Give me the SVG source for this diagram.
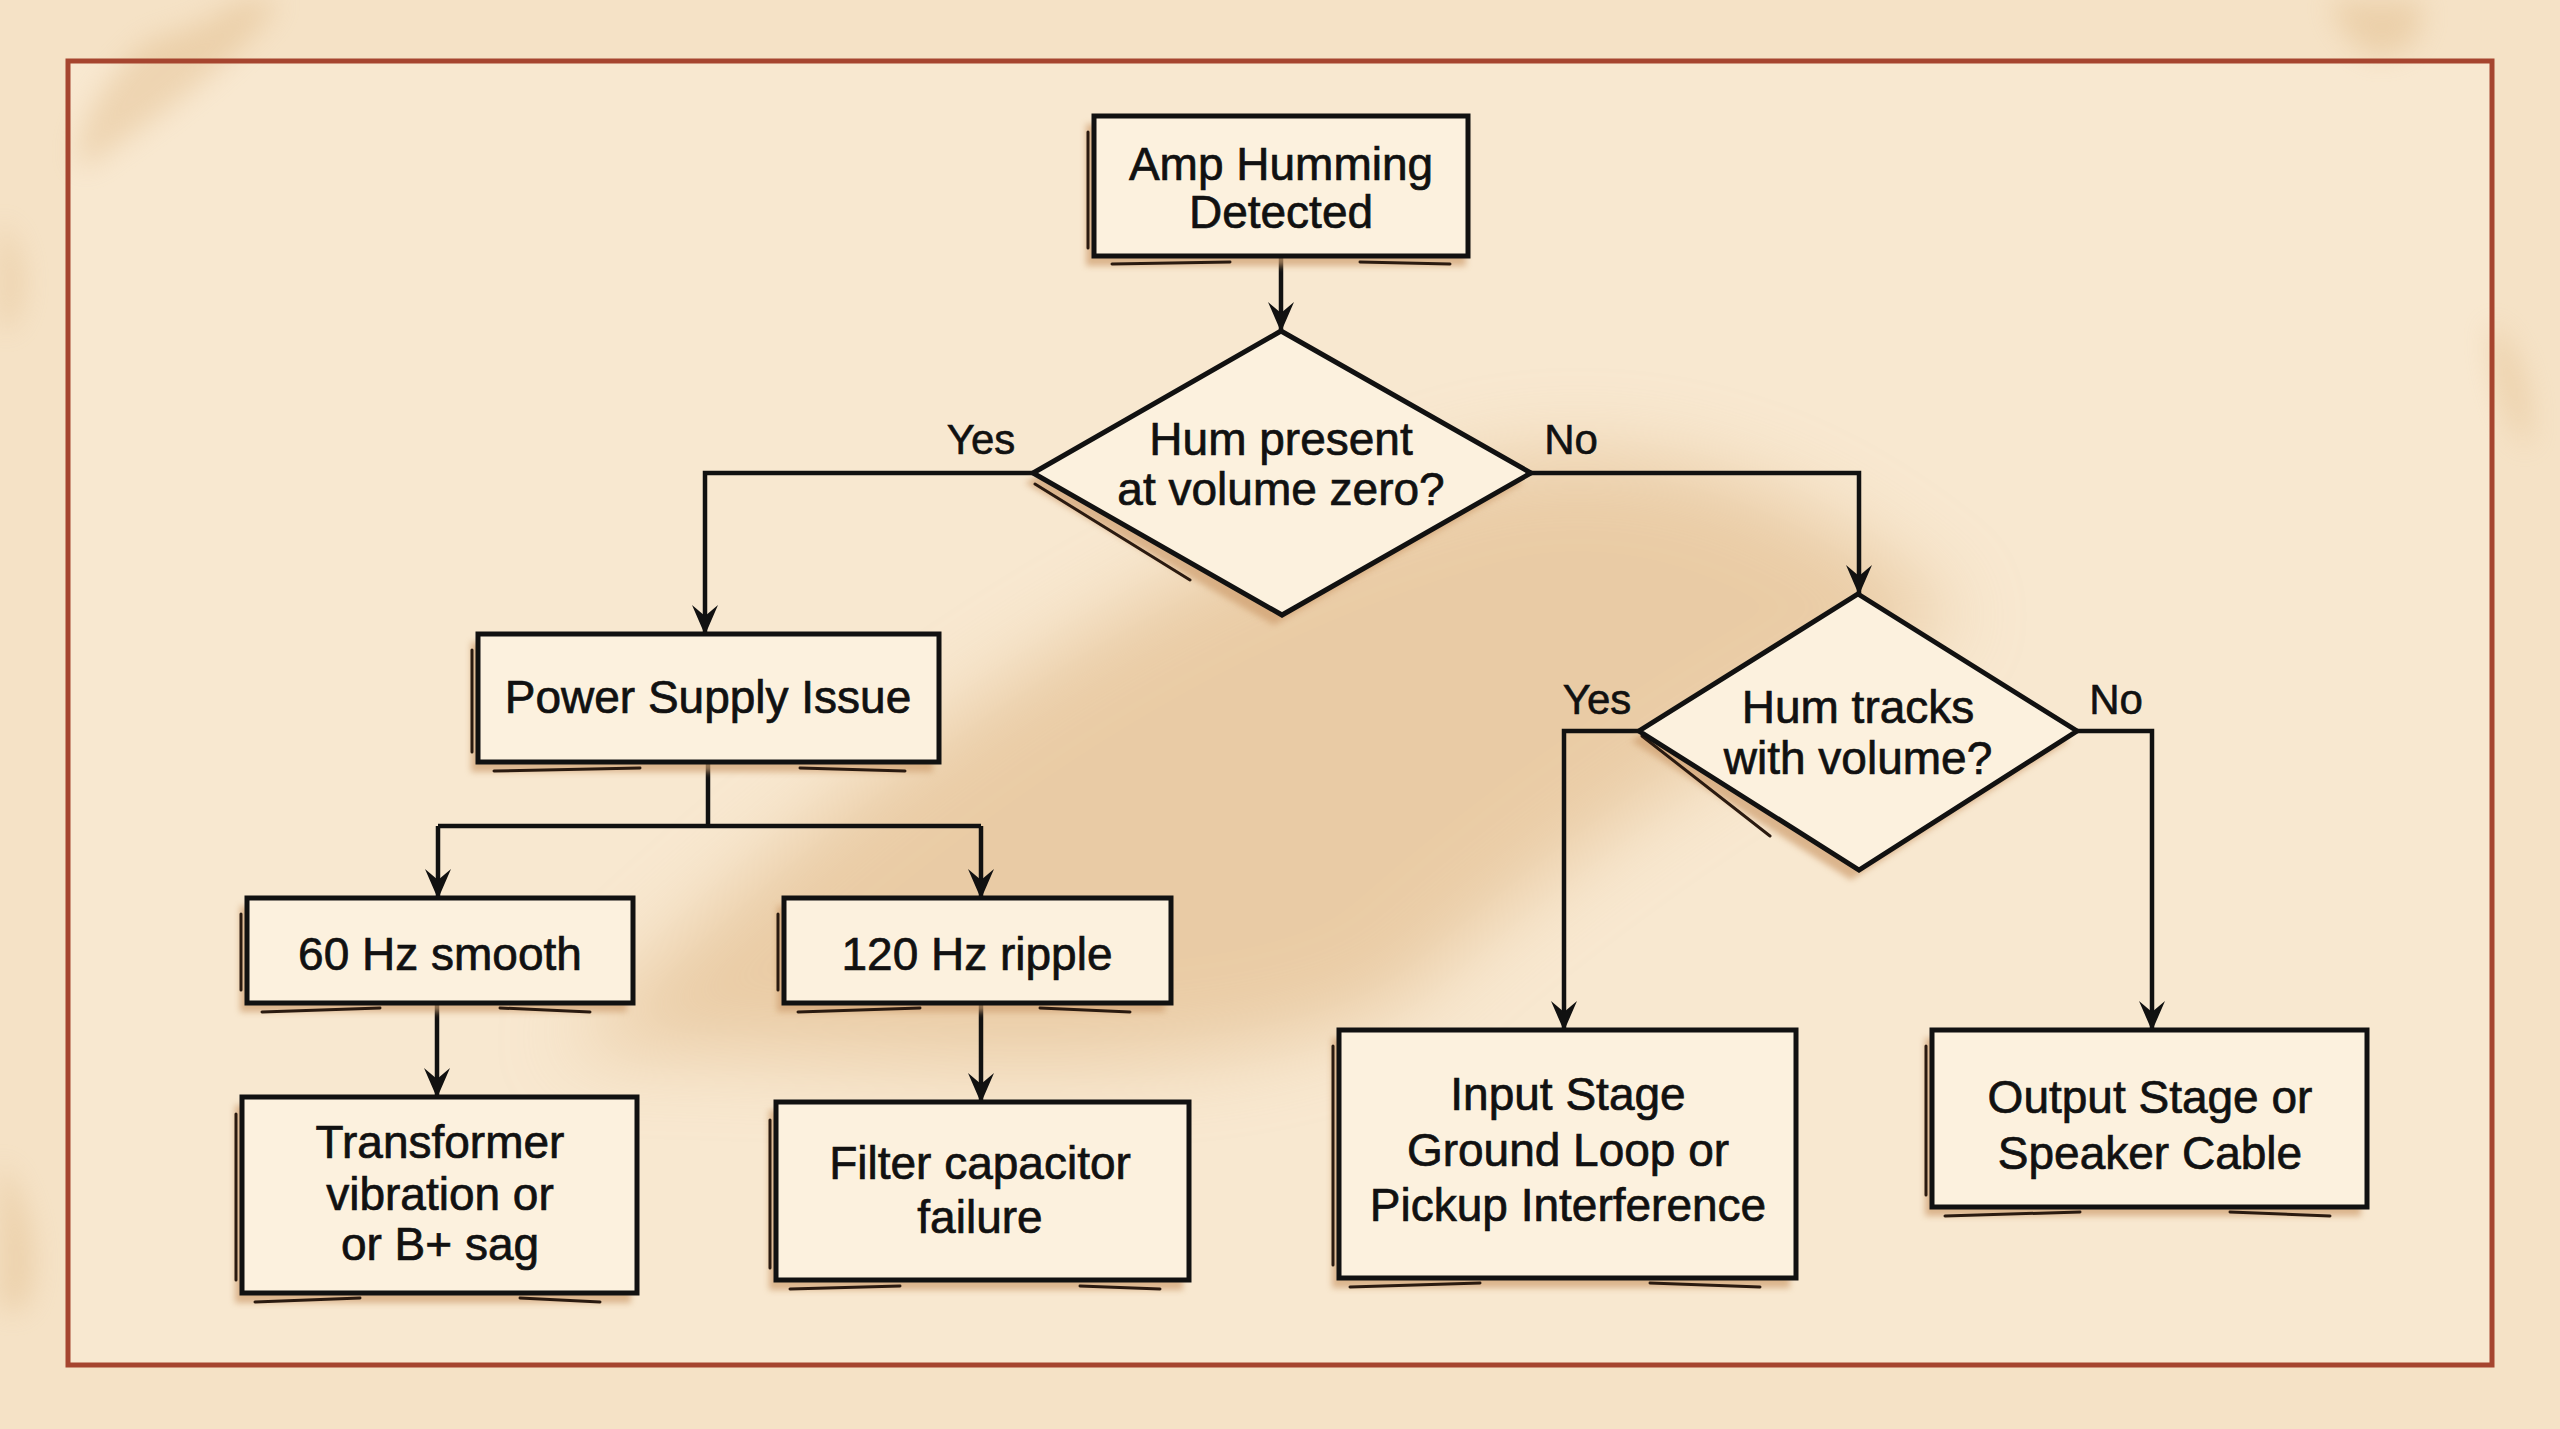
<svg xmlns="http://www.w3.org/2000/svg" width="2560" height="1429" viewBox="0 0 2560 1429">
<defs>
<style>
.box{fill:#fcf1de;stroke:#111;stroke-width:5;stroke-linejoin:miter}
.shadow{fill:#cf9f70;opacity:0.7}
.sk{fill:none;stroke:#2a1a10;stroke-width:3;stroke-linecap:round}
.t{font-family:"Liberation Sans","Arial",sans-serif;font-size:46px;fill:#111;stroke:#111;stroke-width:0.7;text-anchor:middle}
.lbl{font-family:"Liberation Sans","Arial",sans-serif;font-size:42px;fill:#111;stroke:#111;stroke-width:0.6;text-anchor:middle}
.edge{fill:none;stroke:#111;stroke-width:4.5;stroke-linejoin:miter}
</style>
<marker id="arr" viewBox="0 0 30 28" refX="29" refY="14" markerWidth="30" markerHeight="28" markerUnits="userSpaceOnUse" orient="auto">
<path d="M0,1 L30,14 L0,27 L11,14 Z" fill="#111"/>
</marker>
<filter id="blur" x="-20%" y="-20%" width="140%" height="140%"><feGaussianBlur stdDeviation="40"/></filter>
<filter id="blur2" x="-50%" y="-50%" width="200%" height="200%"><feGaussianBlur stdDeviation="14"/></filter>
<filter id="sblur" x="-10%" y="-10%" width="120%" height="130%"><feGaussianBlur stdDeviation="3"/></filter>
</defs>
<rect x="0" y="0" width="2560" height="1429" fill="#f5e2c6"/>
<rect x="68" y="61" width="2424" height="1304" fill="#f8e8d0"/>
<g opacity="0.5" filter="url(#blur)">
<path d="M560,1050 C800,820 1100,560 1500,460 C1700,430 1850,520 1960,620 C1800,700 1600,820 1400,1000 C1200,1100 900,1050 560,1050 Z" fill="#dcb07c"/>
</g>
<g opacity="0.3" filter="url(#blur2)">
<path d="M150,40 C190,30 220,15 240,0 L280,0 C250,50 170,110 80,170 C70,130 110,70 150,40 Z" fill="#d7a86c"/>
<path d="M2330,0 L2420,0 C2430,40 2400,60 2370,55 C2345,40 2335,20 2330,0 Z" fill="#d7a86c"/>
<path d="M2490,320 C2520,350 2535,400 2528,450 C2505,420 2490,370 2490,320 Z" fill="#d7a86c"/>
<path d="M0,220 C25,250 30,300 8,330 L0,330 Z" fill="#d7a86c"/>
<path d="M0,1160 C30,1200 45,1270 22,1310 L0,1310 Z" fill="#d7a86c"/>
</g>
<rect x="68" y="61" width="2424" height="1304" fill="none" stroke="#a6452f" stroke-width="5"/>

<g id="connectors">
<path class="edge" d="M1281,256 L1281,331" marker-end="url(#arr)"/>
<path class="edge" d="M1033,473 L705,473 L705,634" marker-end="url(#arr)"/>
<path class="edge" d="M1531,473 L1859,473 L1859,594" marker-end="url(#arr)"/>
<path class="edge" d="M708,762 L708,826"/>
<path class="edge" d="M438,826 L981,826"/>
<path class="edge" d="M438,826 L438,898" marker-end="url(#arr)"/>
<path class="edge" d="M981,826 L981,898" marker-end="url(#arr)"/>
<path class="edge" d="M437,1003 L437,1097" marker-end="url(#arr)"/>
<path class="edge" d="M981,1003 L981,1102" marker-end="url(#arr)"/>
<path class="edge" d="M1639,731 L1564,731 L1564,1030" marker-end="url(#arr)"/>
<path class="edge" d="M2077,731 L2152,731 L2152,1030" marker-end="url(#arr)"/>
<text class="lbl" x="981" y="454">Yes</text>
<text class="lbl" x="1571" y="454">No</text>
<text class="lbl" x="1597" y="714">Yes</text>
<text class="lbl" x="2116" y="714">No</text>
</g>

<g id="n_start">
<rect class="shadow" x="1086" y="124" width="380" height="142" filter="url(#sblur)"/>
<path class="sk" d="M1088,132 L1088,248 M1112,264 L1230,262 M1360,262 L1450,264"/>
<rect class="box" x="1094" y="116" width="374" height="140"/>
<text class="t" x="1281" y="180">Amp Humming</text>
<text class="t" x="1281" y="228">Detected</text>
</g>

<g id="n_q1">
<polygon class="shadow" points="1273,341 1523,483 1274,625 1025,483" filter="url(#sblur)"/>
<path class="sk" d="M1035,484 L1190,580"/>
<polygon class="box" points="1281,331 1531,473 1282,615 1033,473"/>
<text class="t" x="1281" y="455">Hum present</text>
<text class="t" x="1281" y="505">at volume zero?</text>
</g>

<g id="n_power">
<rect class="shadow" x="471" y="642" width="462" height="130" filter="url(#sblur)"/>
<path class="sk" d="M472,650 L472,752 M494,771 L640,768 M800,768 L905,771"/>
<rect class="box" x="478" y="634" width="461" height="128"/>
<text class="t" x="708" y="713">Power Supply Issue</text>
</g>

<g id="n_60">
<rect class="shadow" x="240" y="906" width="387" height="106" filter="url(#sblur)"/>
<path class="sk" d="M241,914 L241,990 M262,1012 L380,1008 M500,1008 L590,1012"/>
<rect class="box" x="247" y="898" width="386" height="105"/>
<text class="t" x="440" y="970">60 Hz smooth</text>
</g>

<g id="n_120">
<rect class="shadow" x="777" y="906" width="388" height="106" filter="url(#sblur)"/>
<path class="sk" d="M778,914 L778,990 M798,1012 L920,1008 M1040,1008 L1130,1012"/>
<rect class="box" x="784" y="898" width="387" height="105"/>
<text class="t" x="977" y="970">120 Hz ripple</text>
</g>

<g id="n_transformer">
<rect class="shadow" x="235" y="1105" width="396" height="198" filter="url(#sblur)"/>
<path class="sk" d="M236,1114 L236,1280 M255,1302 L360,1298 M520,1298 L600,1302"/>
<rect class="box" x="242" y="1097" width="395" height="196"/>
<text class="t" x="440" y="1158">Transformer</text>
<text class="t" x="440" y="1210">vibration or</text>
<text class="t" x="440" y="1260">or B+ sag</text>
</g>

<g id="n_filter">
<rect class="shadow" x="769" y="1110" width="414" height="180" filter="url(#sblur)"/>
<path class="sk" d="M770,1120 L770,1268 M790,1289 L900,1286 M1080,1286 L1160,1289"/>
<rect class="box" x="776" y="1102" width="413" height="178"/>
<text class="t" x="980" y="1179">Filter capacitor</text>
<text class="t" x="980" y="1233">failure</text>
</g>

<g id="n_q2">
<polygon class="shadow" points="1850,604 2069,741 1851,880 1631,741" filter="url(#sblur)"/>
<path class="sk" d="M1642,736 L1770,836"/>
<polygon class="box" points="1858,594 2077,731 1859,870 1639,731"/>
<text class="t" x="1858" y="723">Hum tracks</text>
<text class="t" x="1858" y="774">with volume?</text>
</g>

<g id="n_input">
<rect class="shadow" x="1332" y="1038" width="458" height="250" filter="url(#sblur)"/>
<path class="sk" d="M1333,1046 L1333,1265 M1350,1287 L1480,1283 M1650,1283 L1760,1287"/>
<rect class="box" x="1339" y="1030" width="457" height="248"/>
<text class="t" x="1568" y="1110">Input Stage</text>
<text class="t" x="1568" y="1166">Ground Loop or</text>
<text class="t" x="1568" y="1221">Pickup Interference</text>
</g>

<g id="n_output">
<rect class="shadow" x="1925" y="1038" width="436" height="178" filter="url(#sblur)"/>
<path class="sk" d="M1926,1046 L1926,1195 M1945,1216 L2080,1212 M2230,1212 L2330,1216"/>
<rect class="box" x="1932" y="1030" width="435" height="177"/>
<text class="t" x="2150" y="1113">Output Stage or</text>
<text class="t" x="2150" y="1169">Speaker Cable</text>
</g>
</svg>
